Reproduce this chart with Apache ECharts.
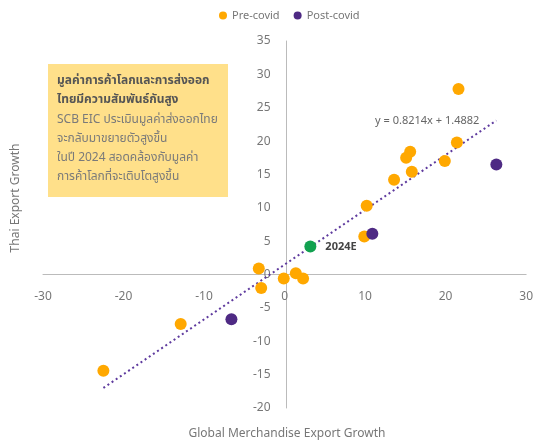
<!DOCTYPE html>
<html>
<head>
<meta charset="utf-8">
<script src="https://cdn.jsdelivr.net/npm/echarts@6/dist/echarts.min.js"></script>
<style>
html,body{margin:0;padding:0;background:#fff;}
#c{width:536px;height:447px;}
</style>
</head>
<body>
<div id="c"></div>
<script>
// Pre-covid points [global export growth, Thai export growth]
var preCovid = [
  [21.6, 27.8], [21.4, 19.8], [19.9, 17.0], [15.6, 18.4], [15.1, 17.5],
  [15.8, 15.4], [13.6, 14.2], [10.2, 10.3], [9.9, 5.7], [-0.1, -0.6],
  [1.4, 0.2], [2.3, -0.6], [-3.2, 0.9], [-2.9, -2.0], [-12.9, -7.4],
  [-22.5, -14.4]
];
// Post-covid points
var postCovid = [
  [26.3, 16.5], [10.9, 6.1], [-6.6, -6.7]
];
// 2024 estimate
var estimate2024 = [[3.2, 4.2]];
var estimateLabel = '2024E';
// Linear trend y = 0.8214x + 1.4882
var trendSlope = 0.8214;
var trendIntercept = 1.4882;
var trendXRange = [-22.5, 26.3];
var trendLabel = 'y = 0.8214x + 1.4882';

var legendNames = ['Pre-covid', 'Post-covid'];
var xAxisTitle = 'Global Merchandise Export Growth';
var yAxisTitle = 'Thai Export Growth';
var noteTitle = ['มูลค่าการค้าโลกและการส่งออก', 'ไทยมีความสัมพันธ์กันสูง'];
var noteBody = ['SCB EIC ประเมินมูลค่าส่งออกไทย', 'จะกลับมาขยายตัวสูงขึ้น', 'ในปี 2024 สอดคล้องกับมูลค่า', 'การค้าโลกที่จะเติบโตสูงขึ้น'];

var trendData = trendXRange.map(function (x) { return [x, trendSlope * x + trendIntercept]; });

var FONT = '"Noto Sans","DejaVu Sans",sans-serif';
var TFONT = '"Noto Sans Thai","Noto Sans","DejaVu Sans",sans-serif';

var GRID = {left: 43, right: 6, top: 41, bottom: 39};
var W = 536, H = 447;
var X_MIN = -30, X_MAX = 30, Y_MIN = -20, Y_MAX = 35;
var gw = W - GRID.left - GRID.right, gh = H - GRID.top - GRID.bottom;
// shift axes so they cross at zero
var yAxisOffset = -gw * (0 - X_MIN) / (X_MAX - X_MIN);
var xAxisOffset = -gh * (0 - Y_MIN) / (Y_MAX - Y_MIN);

var chart = echarts.init(document.getElementById('c'));
var noteChildren = [{
  type: 'rect', shape: {x: 0, y: 0, width: 180, height: 133},
  style: {fill: '#FFE08A'}
}];
noteTitle.forEach(function (t, i) {
  noteChildren.push({type: 'text', x: 9, y: 12 + i * 19,
    style: {text: t, font: 'bold 12px ' + TFONT, fill: '#555'}});
});
noteBody.forEach(function (t, i) {
  noteChildren.push({type: 'text', x: 9, y: 51 + i * 19,
    style: {text: t, font: '12px ' + TFONT, fill: '#7a7a7a'}});
});

chart.setOption({
  animation: false,
  textStyle: {fontFamily: FONT},
  legend: {
    data: legendNames, top: 5, left: 214, icon: 'circle',
    itemWidth: 8, itemHeight: 8, itemGap: 14,
    textStyle: {color: '#777', fontSize: 11, fontFamily: FONT}
  },
  grid: GRID,
  xAxis: {
    type: 'value', min: X_MIN, max: X_MAX, interval: 10,
    position: 'bottom', offset: xAxisOffset,
    axisLine: {onZero: false, lineStyle: {color: '#bbb'}},
    axisTick: {show: false},
    splitLine: {show: false},
    axisLabel: {color: '#777', fontSize: 12, margin: 16, fontFamily: FONT}
  },
  yAxis: {
    type: 'value', min: Y_MIN, max: Y_MAX, interval: 5,
    position: 'left', offset: yAxisOffset,
    axisLine: {show: true, onZero: false, lineStyle: {color: '#bbb'}},
    axisTick: {show: false},
    splitLine: {show: false},
    axisLabel: {color: '#777', fontSize: 12, margin: 16, fontFamily: FONT}
  },
  graphic: [
    {type: 'group', left: 48, top: 64, children: noteChildren},
    {type: 'text', x: 287, y: 428,
      style: {text: xAxisTitle, font: '12px ' + FONT, fill: '#777', align: 'center'}},
    {type: 'text', x: 10, y: 198, rotation: Math.PI / 2,
      style: {text: yAxisTitle, font: '12px ' + FONT, fill: '#777', align: 'center', verticalAlign: 'top'}}
  ],
  series: [
    {
      name: 'trend', type: 'line', data: trendData, symbol: 'none',
      lineStyle: {color: '#5E3A9E', width: 2, type: [2, 3]},
      z: 1,
      markPoint: {
        symbol: 'circle', symbolSize: 0,
        data: [{coord: trendData[1], value: trendLabel}],
        label: {show: true, formatter: trendLabel, color: '#666', fontSize: 11, fontFamily: FONT,
          position: 'left', offset: [-12, 0]}
      },
      tooltip: {show: false}
    },
    {
      name: legendNames[0], type: 'scatter', data: preCovid, symbolSize: 12,
      itemStyle: {color: '#FFA800', opacity: 1}, z: 3
    },
    {
      name: legendNames[1], type: 'scatter', data: postCovid, symbolSize: 12,
      itemStyle: {color: '#4E2A84', opacity: 1}, z: 4
    },
    {
      name: estimateLabel, type: 'scatter', data: estimate2024, symbolSize: 12,
      itemStyle: {color: '#12A150', opacity: 1}, z: 5,
      label: {show: true, formatter: estimateLabel, position: 'right', distance: 9,
        color: '#444', fontWeight: 'bold', fontSize: 11, fontFamily: FONT}
    }
  ]
});
</script>
</body>
</html>
